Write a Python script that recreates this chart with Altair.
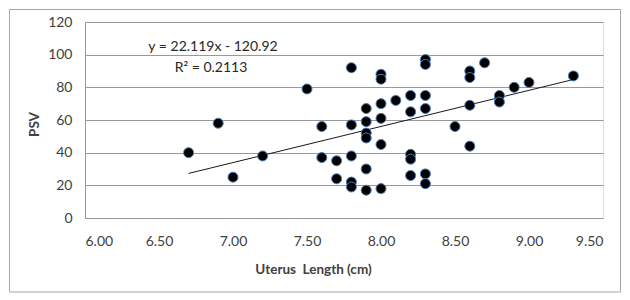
import altair as alt
import pandas as pd

# Data
uterus_length = [6.7, 6.9, 7.0, 7.2, 7.5, 7.6, 7.6, 7.7, 7.7,
                 7.8, 7.8, 7.8, 7.8, 7.8,
                 7.9, 7.9, 7.9, 7.9, 7.9, 7.9,
                 8.0, 8.0, 8.0, 8.0, 8.0, 8.0,
                 8.1,
                 8.2, 8.2, 8.2, 8.2, 8.2,
                 8.3, 8.3, 8.3, 8.3, 8.3, 8.3,
                 8.5,
                 8.6, 8.6, 8.6, 8.6,
                 8.7, 8.8, 8.8, 8.9, 9.0, 9.3]
psv = [40, 58, 25, 38, 79, 56, 37, 35, 24,
       92, 57, 38, 22, 19,
       67, 59, 52, 49, 30, 17,
       88, 85, 70, 61, 45, 18,
       72,
       75, 65, 39, 36, 26,
       97, 94, 75, 67, 27, 21,
       56,
       90, 86, 69, 44,
       95, 75, 71, 80, 83, 87]

trend_x = [6.7, 9.3]
trend_y = [27.3, 84.8]

annotation = ["y = 22.119x - 120.92", "R\u00b2 = 0.2113"]

x_ticks = [6.0, 6.5, 7.0, 7.5, 8.0, 8.5, 9.0, 9.5]
y_ticks = [0, 20, 40, 60, 80, 100, 120]

points = pd.DataFrame({"x": uterus_length, "y": psv})
trend = pd.DataFrame({"x": trend_x, "y": trend_y})

FONT = "Lato"
W, H = 518, 196
PAD = {"left": 77, "top": 14, "right": 19, "bottom": 78}

xscale = alt.Scale(domain=[6.0, 9.5], nice=False, zero=False)
yscale = alt.Scale(domain=[0, 120], nice=False)

xaxis = alt.Axis(values=x_ticks, format=".2f", title="Uterus\u00a0 Length (cm)",
                 grid=False, ticks=False, domain=True, domainColor="#999999",
                 labelPadding=16, labelFontSize=14, labelColor="#404040",
                 labelFont=FONT, titleFont=FONT, titleFontSize=13.5,
                 titleFontWeight="bold", titleColor="#404040",
                 titleX=228, titleY=51, titleAnchor="start", titleAlign="center",
                 titleBaseline="middle", labelOverlap=False)
yaxis = alt.Axis(values=y_ticks, title="PSV", grid=True, gridColor="#999999",
                 ticks=False, domain=True, domainColor="#999999",
                 labelPadding=13, labelFontSize=14, labelColor="#404040",
                 labelFont=FONT, titleFont=FONT, titleFontSize=13.5,
                 titleFontWeight="bold", titleColor="#404040",
                 titleX=-51, titleY=102, titleAngle=270, titleAlign="center",
                 titleBaseline="middle", labelOverlap=False)

one = pd.DataFrame({"a": [0]})

border = alt.Chart(one).mark_rect(
    fill=None, stroke="#a6a6a6", strokeWidth=1, clip=False
).encode(
    x=alt.value(-PAD["left"] + 1.5), x2=alt.value(W + PAD["right"] - 1.5),
    y=alt.value(-PAD["top"] + 1.5), y2=alt.value(H + PAD["bottom"] - 4)
)

dots = alt.Chart(points).mark_point(
    filled=True, shape="circle", size=100, fill="#000000",
    stroke="#4a7ebb", strokeWidth=1, opacity=1
).encode(
    x=alt.X("x:Q", scale=xscale, axis=xaxis),
    y=alt.Y("y:Q", scale=yscale, axis=yaxis),
)

line = alt.Chart(trend).mark_line(color="#1a1a1a", strokeWidth=1).encode(
    x=alt.X("x:Q", scale=xscale, axis=xaxis),
    y=alt.Y("y:Q", scale=yscale, axis=yaxis),
)

eq_text = alt.Chart(one).mark_text(
    font=FONT, fontSize=14, color="#262626", align="center", baseline="middle",
    text=annotation[0]
).encode(x=alt.value(128), y=alt.value(25))

r2_text = alt.Chart(one).mark_text(
    font=FONT, fontSize=14, color="#262626", align="center", baseline="middle",
    text=annotation[1]
).encode(x=alt.value(126), y=alt.value(46))

chart = alt.layer(border, line, dots, eq_text, r2_text).properties(
    width=W, height=H,
    autosize=alt.AutoSizeParams(type="none"),
    padding=PAD,
).configure_view(stroke=None).configure(background="white")

chart.save("out.html", embed_options={"renderer": "svg", "actions": False})
